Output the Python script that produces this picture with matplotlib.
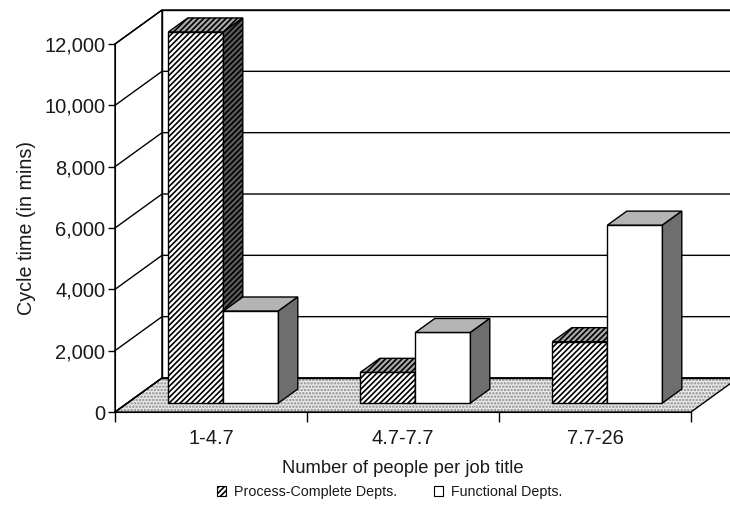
import matplotlib
matplotlib.use("Agg")
import matplotlib.pyplot as plt
from matplotlib.patches import Polygon, Patch
from matplotlib.ticker import FuncFormatter

plt.rcParams['font.family'] = ['Liberation Sans', 'DejaVu Sans']
plt.rcParams['hatch.linewidth'] = 1.2

categories = ["1-4.7", "4.7-7.7", "7.7-26"]
series_names = ["Process-Complete Depts.", "Functional Depts."]
process_complete = [12100, 1000, 2000]
functional = [3000, 2300, 5800]
yticks = [0, 2000, 4000, 6000, 8000, 10000, 12000]

fig = plt.figure(figsize=(7.3, 5.12), dpi=100)
ax = fig.add_axes([115 / 730, 100 / 512, 576 / 730, 368 / 512])
ax.set_xlim(0, 3)
ax.set_ylim(0, 12000)

DX = 47 / 192            # depth shift in category units
DY = 34 / (368 / 12000)  # depth shift in value units


def proj(x, v, d):
    return (x + d * DX, v + d * DY)


def poly(pts, **kw):
    p = Polygon(pts, closed=True, clip_on=False, **kw)
    ax.add_patch(p)
    return p


ymax = yticks[-1]
# floor
floor = [proj(0, 0, 0), proj(3, 0, 0), proj(3, 0, 1), proj(0, 0, 1)]
poly(floor, facecolor='#ececec', edgecolor='#8a8a8a', hatch='.....', lw=0, zorder=1)
poly(floor, facecolor='none', edgecolor='black', lw=1.0, zorder=2)
# back wall and left wall
poly([proj(0, 0, 1), proj(3.3, 0, 1), proj(3.3, ymax, 1), proj(0, ymax, 1)],
     facecolor='none', edgecolor='black', lw=1.0, zorder=2)
poly([proj(0, 0, 0), proj(0, 0, 1), proj(0, ymax, 1), proj(0, ymax, 0)],
     facecolor='none', edgecolor='black', lw=1.0, zorder=2)
# gridlines
for t in yticks:
    p0 = proj(0, t, 0)
    p1 = proj(0, t, 1)
    p2 = proj(3.3, t, 1)
    ax.plot([p0[0], p1[0], p2[0]], [p0[1], p1[1], p2[1]], color='black', lw=1.0,
            clip_on=False, zorder=2)

# bars
bw = 0.2865
d0, d1 = 9 / 34, 23 / 34
styles = [
    dict(front='white', top='#a8a8a8', side='#5c5c5c', hatch='//////'),
    dict(front='white', top='#b4b4b4', side='#6e6e6e', hatch=None),
]
for i in range(len(categories)):
    for s, vals in enumerate([process_complete, functional]):
        x0 = i + 0.5 - bw + s * bw
        x1 = x0 + bw
        h = vals[i]
        st = styles[s]
        z = 5 + i * 2 + s
        poly([proj(x0, 0, d0), proj(x1, 0, d0), proj(x1, h, d0), proj(x0, h, d0)],
             facecolor=st['front'], edgecolor='black', hatch=st['hatch'], lw=1.0, zorder=z)
        poly([proj(x0, h, d0), proj(x1, h, d0), proj(x1, h, d1), proj(x0, h, d1)],
             facecolor=st['top'], edgecolor='black', hatch=st['hatch'], lw=1.0, zorder=z)
        poly([proj(x1, 0, d0), proj(x1, 0, d1), proj(x1, h, d1), proj(x1, h, d0)],
             facecolor=st['side'], edgecolor='black', hatch=st['hatch'], lw=1.0, zorder=z)

# axes styling
for sp in ['top', 'right']:
    ax.spines[sp].set_visible(False)
ax.spines['left'].set_zorder(3)
ax.spines['bottom'].set_zorder(3)
ax.set_yticks(yticks)
ax.yaxis.set_major_formatter(FuncFormatter(lambda v, p: f"{int(v):,}"))
ax.tick_params(axis='y', direction='out', length=5, width=1, labelsize=14.5, pad=2,
               labelcolor='#1a1a1a')
ax.set_xticks([0, 1, 2, 3], minor=True)
ax.set_xticks([0.5, 1.5, 2.5])
ax.set_xticklabels(categories)
ax.tick_params(axis='x', which='major', length=0, labelsize=14.5, pad=12,
               labelcolor='#1a1a1a')
ax.tick_params(axis='x', which='minor', direction='out', length=7, width=1)
ax.patch.set_visible(False)

ax.set_ylabel("Cycle time (in mins)", fontsize=14.2, labelpad=6, color='#1a1a1a')
ax.set_xlabel("Number of people per job title", fontsize=13.2, labelpad=9, color='#1a1a1a')

handles = [Patch(facecolor='white', edgecolor='black', hatch='//////', lw=0.8),
           Patch(facecolor='white', edgecolor='black', lw=0.8)]
fig.legend(handles, series_names, loc='center', bbox_to_anchor=(390 / 730, 1 - 492 / 512),
           ncol=2, frameon=False, fontsize=10.3, handlelength=0.63, handleheight=0.63,
           handletextpad=0.55, columnspacing=2.6, labelcolor='#1a1a1a')

fig.savefig("out.png", dpi=100)
